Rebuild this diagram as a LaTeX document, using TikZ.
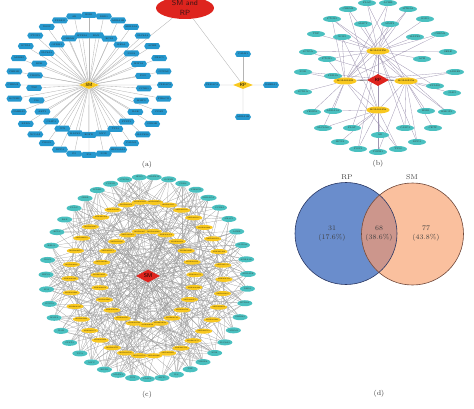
\documentclass[tikz,border=0pt]{standalone}
\usetikzlibrary{shapes.geometric,shapes.symbols}
\definecolor{blueA}{RGB}{38,152,206}
\definecolor{hubY}{RGB}{248,200,32}
\definecolor{hubR}{RGB}{222,36,30}
\definecolor{tealC}{RGB}{74,192,192}
\definecolor{edgeG}{RGB}{180,180,180}
\definecolor{edgeP}{RGB}{160,150,178}
\definecolor{vBlue}{RGB}{106,141,204}
\definecolor{vSal}{RGB}{250,192,158}
\definecolor{vMix}{RGB}{204,150,140}
\definecolor{vBlueD}{RGB}{42,56,100}
\definecolor{vSalD}{RGB}{112,72,58}
\pgfdeclarelayer{bg}
\pgfsetlayers{bg,main}
\def\genes{{"PTGS2","ESR1","AR","PPARG","NOS2","PTGS1","SCN5A","ADRB2","CHRM1","CHRM2","KCNH2","GABRA1","RXRA","NCOA2","PRSS1","DPP4","F2","F10","PGR","HSP90AA1","CALM1","MAPK14","GSK3B","CDK2","PIK3CG","PRKACA","CCNA2","NR3C1","ACHE","SLC6A4","ADRA1A","ADRA1B","DRD1","HTR2A","CHRM3","OPRM1","SLC6A3","KDR","VEGFA","TNF","IL6","AKT1","CASP3","JUN","MAPK1","EGFR","MYC","TP53","STAT3","IL1B","MMP9","CCND1","FOS","HIF1A","NOS3","RELA","BCL2","BAX","PLAU","SELE","ICAM1","VCAM1","CXCL8","IFNG","MMP2","SOD1","HMOX1"}}
\begin{document}
\begin{tikzpicture}[x=1pt,y=-1pt,
  tinytext/.style={font=\fontsize{2.3}{2.5}\selectfont},
  tgtA/.style={signal, signal to=west and east, signal pointer angle=120, fill=blueA, minimum width=16pt, minimum height=6pt, inner sep=0pt, font=\fontsize{2.2}{2.4}\selectfont, text=black!85},
  tgtB/.style={ellipse, fill=tealC, minimum width=18pt, minimum height=6pt, inner sep=0pt, tinytext, text=black!80},
  tgtC/.style={ellipse, fill=tealC, minimum width=15pt, minimum height=6pt, inner sep=0pt, font=\fontsize{2}{2.2}\selectfont, text=black!80},
  hubD/.style={diamond, aspect=2.6, fill=hubY, minimum width=20pt, minimum height=8pt, inner sep=0pt, font=\sffamily\fontsize{4.5}{5}\selectfont},
  redD/.style={diamond, aspect=1.8, fill=hubR, minimum width=22pt, minimum height=12pt, inner sep=0pt, font=\sffamily\fontsize{4.5}{5}\selectfont},
  molB/.style={ellipse, fill=hubY, minimum width=21pt, minimum height=7pt, inner sep=0pt, tinytext},
  molC/.style={ellipse, fill=hubY, minimum width=14pt, minimum height=5pt, inner sep=0pt, font=\fontsize{1.7}{1.9}\selectfont},
  edgeA/.style={draw=edgeG, line width=0.35pt},
  edgeB/.style={draw=edgeP, line width=0.3pt},
  edgeC/.style={draw=black!40, line width=0.22pt},
  caption/.style={font=\fontsize{7}{8}\selectfont, text=black!80},
  vtext/.style={font=\fontsize{7}{9}\selectfont, text=black!75, align=center}
]
\useasboundingbox (0,0) rectangle (474,409);

% ---------------- panel (a) ----------------
\node[hubD] (sm) at (89,85) {SM};
\node[ellipse, fill=hubR, minimum width=58pt, minimum height=22pt, inner sep=0pt, align=center,
      font=\sffamily\fontsize{7.5}{10}\selectfont, text={rgb,255:red,60;green,20;blue,20}] (smrp) at (185,8) {SM and\\RP};
\node[hubD] (rp) at (243,85) {RP};
\node[tgtA] (rp1) at (243,54) {CALM1};
\node[tgtA] (rp2) at (212,85) {PRKACA};
\node[tgtA] (rp3) at (271,85) {GABRA1};
\node[tgtA] (rp4) at (243,117) {ADRA1B};
\begin{pgfonlayer}{bg}
  \draw[edgeA] (smrp) -- (sm);
  \draw[edgeA] (smrp) -- (rp);
  \foreach \k in {1,...,4} {\draw[edgeA] (rp) -- (rp\k);}
\end{pgfonlayer}
\foreach \i in {1,...,32} {
  \pgfmathsetmacro\ang{90+360*(\i-1)/32}
  \node[tgtA] (ao\i) at ({89+76*cos(\ang)},{85-70*sin(\ang)}) {\pgfmathparse{\genes[mod(\i,67)]}\pgfmathresult};
  \begin{pgfonlayer}{bg}\draw[edgeA] (sm) -- (ao\i);\end{pgfonlayer}
}
\foreach \i in {1,...,25} {
  \pgfmathsetmacro\ang{97+360*(\i-1)/25}
  \node[tgtA] (ai\i) at ({89+55*cos(\ang)},{85-50*sin(\ang)}) {\pgfmathparse{\genes[mod(\i+32,67)]}\pgfmathresult};
  \begin{pgfonlayer}{bg}\draw[edgeA] (sm) -- (ai\i);\end{pgfonlayer}
}
\node[caption] (capa) at (147,165) {(a)};

% ---------------- panel (b) ----------------
\node[redD] (rpb) at (378,80) {RP};
\node[molB] (mbt) at (378,51) {MOL011250};
\node[molB] (mbl) at (345,81) {MOL000392};
\node[molB] (mbr) at (406,81) {MOL002558};
\node[molB] (mbb) at (378,110) {MOL000358};
\begin{pgfonlayer}{bg}
  \foreach \m in {mbt,mbl,mbr,mbb} {\draw[draw=black!45, line width=0.6pt] (rpb) -- (\m);}
  \draw[edgeB] (mbt) -- (mbl); \draw[edgeB] (mbt) -- (mbr);
  \draw[edgeB] (mbl) -- (mbb); \draw[edgeB] (mbr) -- (mbb);
\end{pgfonlayer}
\foreach \n/\x/\y/\lab/\c in {
  1/367/3/PLAU/{mbt,mbr}, 2/388/3/ACHE/{mbt,mbl}, 3/348/9/CHRM2/{mbt,mbb}, 4/408/9/HTR2A/{mbt,mbl},
  5/332/19/PTGS2/{mbt,mbl,mbr}, 6/363/24/MAPT/{mbt}, 7/390/24/MMP3/{mbt,mbl}, 8/425/19/SOD1/{mbt},
  9/316/34/TNF/{mbt}, 10/342/37/NOS2/{mbt,mbl,mbb}, 11/415/37/MAPK1/{mbt}, 12/440/34/CHRM3/{mbt,mbl},
  13/308/52/SCN5A/{mbt,mbr}, 14/327/59/PTGS1/{mbt,mbl}, 15/422/59/ACE/{mbt}, 16/448/52/SELE/{mbt},
  17/303/72/PGR/{mbl,mbr}, 18/455/72/ADRB2/{mbr,mbl}, 19/333/76/PDE3A/{mbl}, 20/435/86/PPARG/{mbr,mbt},
  21/303/92/SCN1A/{mbl}, 22/452/93/JAK2/{mbr}, 23/312/112/VEGFA/{mbl}, 24/333/111/ADRA1A/{mbl,mbb},
  25/426/111/ESR1/{mbr}, 26/447/112/HMOX1/{mbr,mbt}, 27/323/128/SLC6A4/{mbl,mbb}, 28/352/128/PLAT/{mbb,mbt},
  29/405/128/CASP3/{mbr,mbt}, 30/433/128/CETP/{mbr}, 31/340/142/HCN4/{mbb}, 32/380/135/AR/{mbb},
  33/417/142/DPP4/{mbr,mbt}, 34/358/149/PON1/{mbb,mbt}, 35/378/152/TGFB1/{mbt,mbr}, 36/398/149/TP53/{mbb,mbl}} {
  \node[tgtB] (b\n) at (\x,\y) {\lab};
  \begin{pgfonlayer}{bg}\foreach \m in \c {\draw[edgeB] (\m) -- (b\n);}\end{pgfonlayer}
}
\node[caption] (capb) at (378,164) {(b)};

% ---------------- panel (c) ----------------
\node[redD, minimum width=24pt, minimum height=13pt, font=\sffamily\fontsize{5.5}{6}\selectfont] (smc) at (148,276) {SM};
\foreach \i in {1,...,43} {
  \pgfmathsetmacro\ang{86-360*(\i-1)/43}
  \node[tgtC] (c\i) at ({147+101*cos(\ang)},{278-101*sin(\ang)}) {\pgfmathparse{\genes[mod(\i+20,67)]}\pgfmathresult};
}
\foreach \i in {1,...,34} {
  \pgfmathsetmacro\ang{95-360*(\i-1)/34}
  \node[molC] (y\i) at ({147+77*cos(\ang)},{279-77*sin(\ang)}) {MOL00\pgfmathparse{int(1000+37*\i)}\pgfmathresult};
}
\foreach \i in {1,...,23} {
  \pgfmathsetmacro\ang{98-360*(\i-1)/23}
  \node[molC] (z\i) at ({147+48*cos(\ang)},{278-47*sin(\ang)}) {MOL00\pgfmathparse{int(2000+53*\i)}\pgfmathresult};
}
\begin{pgfonlayer}{bg}
  \foreach \i in {1,...,34} {
    \draw[edgeC] (smc) -- (y\i);
    \foreach \k in {0,...,5} {
      \pgfmathtruncatemacro\j{mod(\i*13+\k*9,43)+1}
      \draw[edgeC] (y\i) -- (c\j);
    }
  }
  \foreach \i in {1,...,23} {
    \draw[edgeC] (smc) -- (z\i);
    \foreach \k in {0,...,5} {
      \pgfmathtruncatemacro\j{mod(\i*7+\k*15+3,43)+1}
      \draw[edgeC] (z\i) -- (c\j);
    }
  }
\end{pgfonlayer}
\node[caption] (capc) at (147,395) {(c)};

% ---------------- panel (d) ----------------
\fill[vBlue] (346,233.5) circle (51);
\fill[vSal] (412.5,234) circle (51);
\begin{scope}
  \clip (346,233.5) circle (51);
  \fill[vMix] (412.5,234) circle (51);
\end{scope}
\draw[vBlueD, line width=0.6pt] (346,233.5) circle (51);
\draw[vSalD, line width=0.6pt] (412.5,234) circle (51);
\node[vtext] (lrp) at (347,177) {RP};
\node[vtext] (lsm) at (412,177) {SM};
\node[vtext] (n1) at (332,233.5) {31\\(17.6\%)};
\node[vtext] (n2) at (379,233.5) {68\\(38.6\%)};
\node[vtext] (n3) at (426,233.5) {77\\(43.8\%)};
\node[caption] (capd) at (379,394) {(d)};
\end{tikzpicture}
\end{document}
